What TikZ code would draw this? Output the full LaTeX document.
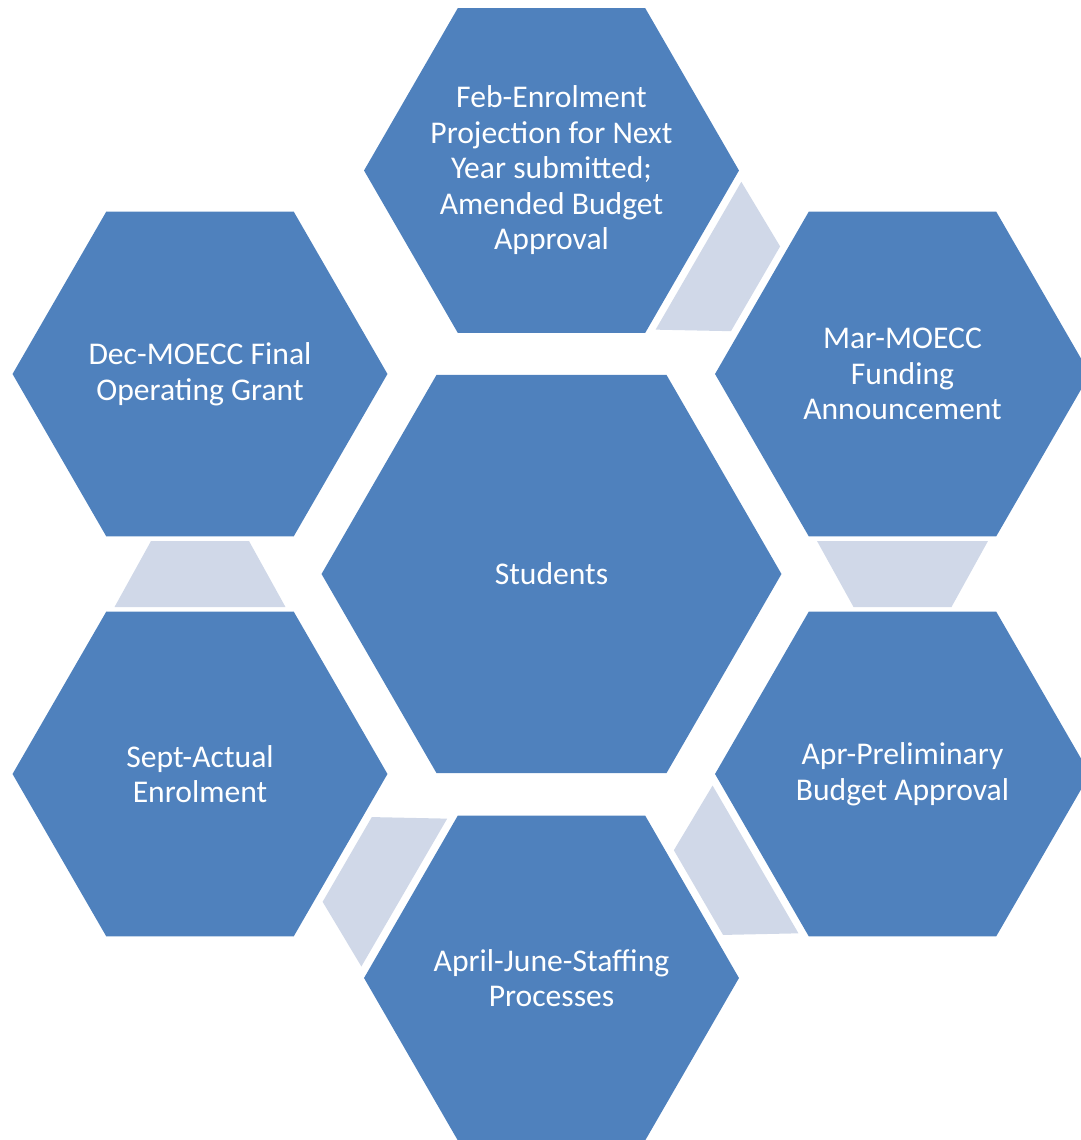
\documentclass[tikz,border=0pt]{standalone}
\usepackage{fontspec}
\setmainfont{Carlito}
\usepackage{tikz}
\usetikzlibrary{calc,shapes.geometric}
\definecolor{hexblue}{RGB}{79,129,189}
\definecolor{linkgrey}{RGB}{208,216,232}

\begin{document}
\begin{tikzpicture}[x=0.02cm, y=-0.02cm,
    hexa/.style={regular polygon, regular polygon sides=6, minimum size=7.5cm,
      inner sep=-1cm, outer sep=0pt, fill=hexblue, text=white, align=center,
      font=\fontsize{18}{20.2}\selectfont},
    link/.style={fill=linkgrey}]
  \clip (0,0) rectangle (1081,1140);

  \node [hexa, minimum size=9.2cm] (students) at (551.5,574) {Students};
  \node [hexa] (feb) at (551.5,170.5) {Feb-Enrolment\\Projection for Next\\Year submitted;\\Amended Budget\\Approval};
  \node [hexa] (mar) at (902.5,374) {Mar-MOECC\\Funding\\Announcement};
  \node [hexa] (apr) at (902.5,774) {Apr-Preliminary\\Budget Approval};
  \node [hexa] (staff) at (551.5,978) {April-June-Staffing\\Processes};
  \node [hexa] (sept) at (200,774) {Sept-Actual\\Enrolment};
  \node [hexa] (dec) at (200,374) {Dec-MOECC Final\\Operating Grant};

  % tapered links, wide end at the source
  \foreach \a/\b in {feb/mar, mar/apr, apr/staff, staff/sept, sept/dec} {
    \coordinate (m) at ($(\a.center)!0.5!(\b.center)$);
    \coordinate (w) at ($(m)!0.66cm!(\a.center)$);
    \coordinate (n) at ($(m)!0.66cm!(\b.center)$);
    \fill [link] ($(w)!1.71cm!90:(\b.center)$) -- ($(w)!1.71cm!-90:(\b.center)$)
      -- ($(n)!0.98cm!-90:(\b.center)$) -- ($(n)!0.98cm!90:(\b.center)$) -- cycle;
  }

\end{tikzpicture}
\end{document}
